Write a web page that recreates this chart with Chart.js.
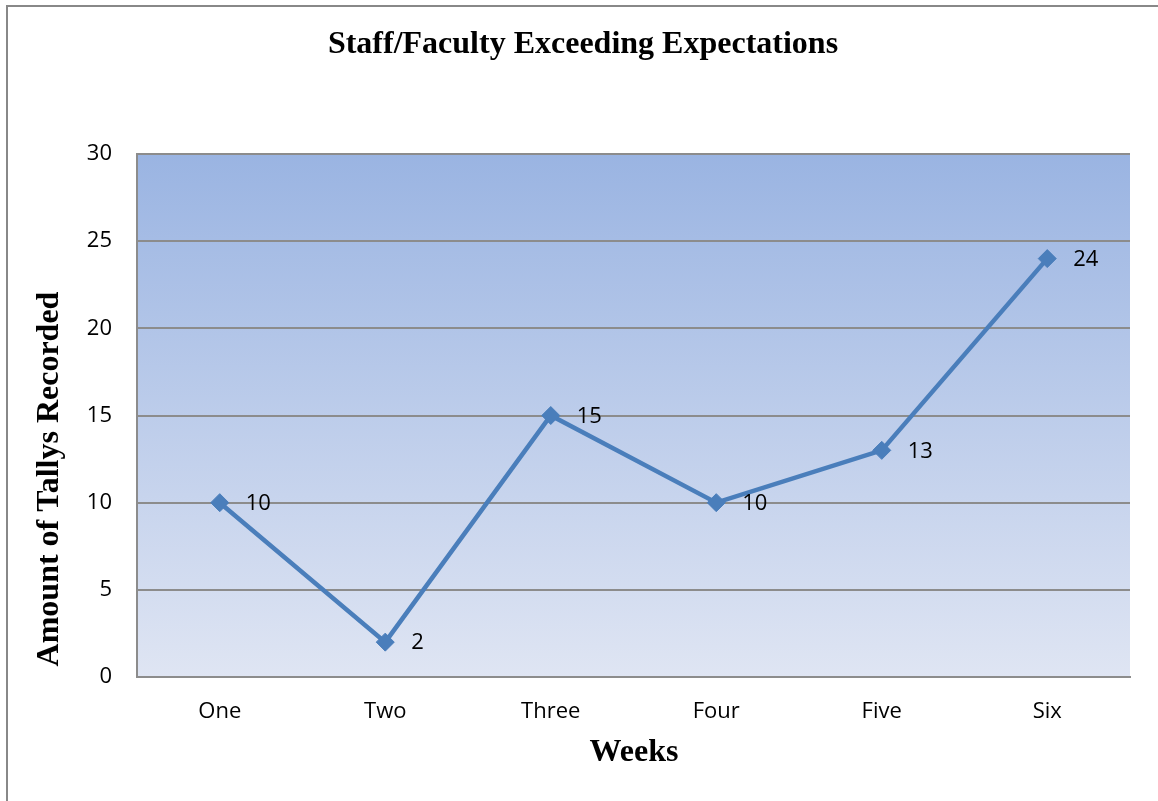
<!DOCTYPE html>
<html><head><meta charset="utf-8">
<script src="https://cdn.jsdelivr.net/npm/chart.js@4/dist/chart.umd.min.js"></script>
<style>html,body{margin:0;padding:0;background:#fff;overflow:hidden}#wrap{position:relative;width:1158px;height:801px}</style>
</head><body><div id="wrap"><canvas id="c" width="1158" height="801"></canvas></div>
<script>
const chartTitle = 'Staff/Faculty Exceeding Expectations';
const xTitle = 'Weeks';
const yTitle = 'Amount of Tallys Recorded';
const weeks = ['One','Two','Three','Four','Five','Six'];
const tallies = [10, 2, 15, 10, 13, 24];
const yTicks = [0, 5, 10, 15, 20, 25, 30];

const AREA = {left:137, top:154, right:1130, bottom:677};
const tickFont = {family:'"Open Sans", sans-serif', size:22};
const gridGray = '#8c8c8c';

const decor = {
  id:'decor',
  beforeDraw(chart){
    const {ctx, chartArea:a} = chart;
    ctx.save();
    ctx.fillStyle='#fff'; ctx.fillRect(0,0,chart.width,chart.height);
    ctx.strokeStyle='#888'; ctx.lineWidth=2;
    ctx.beginPath(); ctx.moveTo(7,801); ctx.lineTo(7,6); ctx.lineTo(1158,6); ctx.stroke();
    const g = ctx.createLinearGradient(0,a.top,0,a.bottom);
    g.addColorStop(0,'#9ab4e2'); g.addColorStop(1,'#dfe5f3');
    ctx.fillStyle=g; ctx.fillRect(a.left,a.top,a.right-a.left,a.bottom-a.top);
    ctx.restore();
  },
  afterDraw(chart){
    const {ctx, chartArea:a} = chart;
    ctx.save();
    ctx.fillStyle='#000';
    ctx.textAlign='center'; ctx.textBaseline='middle';
    ctx.font='bold 32px "Liberation Serif", serif';
    ctx.fillText(chartTitle, 583, 45);
    ctx.fillText(xTitle, 634, 753);
    ctx.translate(50, 479); ctx.rotate(-Math.PI/2);
    ctx.fillText(yTitle, 0, 0);
    ctx.restore();
    const meta = chart.getDatasetMeta(0);
    ctx.save();
    ctx.font = `${tickFont.size}px ${tickFont.family}`;
    ctx.fillStyle='#000'; ctx.textAlign='left'; ctx.textBaseline='middle';
    meta.data.forEach((pt,i)=>{ ctx.fillText(String(tallies[i]), pt.x+26, pt.y+1); });
    ctx.restore();
  }
};

new Chart(document.getElementById('c'), {
  type:'line',
  data:{ labels:weeks, datasets:[{
    data:tallies, borderColor:'#4a7ebb', backgroundColor:'#4a7ebb', borderWidth:4.5,
    pointStyle:'rectRot', pointRadius:9, pointBorderWidth:1, pointBackgroundColor:'#4a7ebb', pointBorderColor:'#4a7ebb',
    tension:0, fill:false
  }]},
  options:{
    responsive:false, animation:false, devicePixelRatio:1,
    layout:{padding:{top:AREA.top, right:1158-AREA.right, left:0, bottom:0}},
    plugins:{legend:{display:false}, tooltip:{enabled:false}, title:{display:false}},
    scales:{
      x:{ offset:true, grid:{display:false, drawTicks:false}, border:{display:true, color:gridGray, width:2},
          ticks:{font:tickFont, color:'#000', padding:22},
          afterFit(s){ s.height = 801-AREA.bottom; } },
      y:{ min:0, max:30, afterBuildTicks(s){ s.ticks = yTicks.map(v=>({value:v})); },
          grid:{color:gridGray, lineWidth:2, drawTicks:false}, border:{display:true, color:gridGray, width:2},
          ticks:{font:tickFont, color:'#000', padding:25},
          afterFit(s){ s.width = AREA.left; } }
    }
  },
  plugins:[decor]
});
</script></body></html>
